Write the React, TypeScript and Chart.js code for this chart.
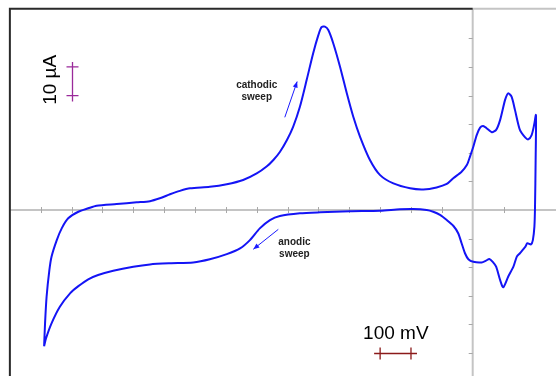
import React, { useEffect, useRef } from "react";
import { Chart, registerables } from "chart.js";

Chart.register(...registerables);

// Cyclic voltammogram: potential (mV) and current (µA), traced as one closed loop
const potential_mV = [
  -1389, -1386, -1381, -1372, -1365, -1348, -1332, -1311, -1278, -1246, -1219, -1154, -1089, -1046, -1014, -981,
  -949, -916, -852, -797, -744, -700, -668, -646, -625, -602, -582, -560, -538, -517, -500, -490, -479, -468, -452, -430,
  -408, -387, -365, -333, -300, -257, -203, -160, -117, -84, -63, -36, -19, -9, 2, 13, 24, 34, 45, 62, 76, 89, 105,
  115, 126, 137, 153, 170, 180, 191, 199, 205,
  204, 202, 200, 195, 189, 177, 171, 153, 143, 132, 115, 99, 89, 76, 65, 54, 43, 29, 2, -14, -25, -36, -47, -63,
  -84, -106, -128, -149, -193, -236, -300, -398, -495, -560, -625, -657, -690, -722, -754, -797, -852, -906, -981,
  -1046, -1100, -1165, -1214, -1246, -1278, -1305, -1338, -1365, -1383, -1389,
];
const current_uA = [
  -47.6, -39.6, -30.3, -21.0, -16.3, -10.5, -6.4, -2.9, -0.6, 0.6, 1.5, 2.1, 2.7, 3.1, 4.1, 5.5,
  6.7, 7.6, 8.1, 9.0, 10.5, 12.8, 15.2, 17.5, 20.3, 24.5, 29.1, 36.1, 45.5, 54.8, 61.2, 63.9, 64.1, 62.9, 58.3, 50.1,
  40.8, 32.6, 25.6, 17.5, 12.2, 9.3, 7.6, 7.2, 7.9, 9.1, 11.1, 13.4, 15.7, 18.6, 22.1, 26.2, 28.8, 29.4, 28.6, 27.2, 28.0, 31.5, 38.5,
  40.8, 39.6, 35.0, 28.0, 25.4, 24.7, 26.2, 29.7, 33.2,
  17.5, 1.2, -5.8, -10.5, -12.0, -11.6, -12.8, -15.1, -16.3, -19.8, -23.3, -27.0, -24.5, -19.8, -18.1, -17.1, -17.7, -18.3,
  -18.1, -17.2, -15.1, -11.6, -8.1, -5.5, -3.5, -1.7, -0.6, 0, 0.35, 0.24, -0.24, -0.45, -0.8, -1.15, -2.1, -3.5, -6.4, -10.5, -13.4,
  -15.4, -17.2, -18.3, -18.6, -19.0, -19.8, -21.2, -22.7, -24.2, -26.6, -29.1, -33.8, -39.6, -44.9, -47.6,
];

// axis tick positions
const xTicks_mV = [-1400, -1300, -1200, -1100, -1000, -900, -800, -700, -600, -500, -400, -300, -200, -100, 100, 200];
const yTicks_uA = [-50, -40, -30, -20, -10, 10, 20, 30, 40, 50, 60];

// view window and frame
const xRange = [-1532, 270];
const yRange = [-58, 73.4];
const frameLeft_mV = -1500;
const frameTop_uA = 70.3;

// annotations
const sweepLabels = [
  { lines: ["cathodic", "sweep"], x: -700, y: [43.7, 39.3] },
  { lines: ["anodic", "sweep"], x: -578, y: [-11.2, -15.5] },
];
const sweepArrows = [
  { from: [-609, 32.4], to: [-569, 44.9] },
  { from: [-630, -6.75], to: [-711, -13.7] },
];
const currentBar = { label: "10 µA", x: -1300, from: 40, to: 50, labelX: -1367, labelY: 45.5 };
const potentialBar = { label: "100 mV", y: -50, from: -300, to: -200, labelX: -249, labelY: -43.1 };

const decorPlugin = {
  id: "decor",
  beforeDatasetsDraw(chart: any) {
    const { ctx, scales } = chart;
    const xs = scales.x;
    const ys = scales.y;
    const px = (v: number) => xs.getPixelForValue(v);
    const py = (v: number) => ys.getPixelForValue(v);
    const x0 = px(0);
    const y0 = py(0);
    const W = chart.width;
    const H = chart.height;
    ctx.save();
    // axes
    ctx.strokeStyle = "#c4c4c4";
    ctx.lineWidth = 2;
    ctx.beginPath();
    ctx.moveTo(px(frameLeft_mV), y0);
    ctx.lineTo(W, y0);
    ctx.moveTo(x0, py(frameTop_uA));
    ctx.lineTo(x0, H);
    ctx.stroke();
    // ticks
    ctx.strokeStyle = "#a8a8a8";
    ctx.lineWidth = 1;
    ctx.beginPath();
    xTicks_mV.forEach((t) => {
      const x = Math.round(px(t)) + 0.5;
      ctx.moveTo(x, y0 - 3);
      ctx.lineTo(x, y0 + 3);
    });
    yTicks_uA.forEach((t) => {
      const y = Math.round(py(t)) + 0.5;
      ctx.moveTo(x0 - 4, y);
      ctx.lineTo(x0, y);
    });
    ctx.stroke();
    // frame
    ctx.strokeStyle = "#c4c4c4";
    ctx.lineWidth = 2;
    ctx.beginPath();
    ctx.moveTo(x0, py(frameTop_uA));
    ctx.lineTo(W, py(frameTop_uA));
    ctx.stroke();
    ctx.strokeStyle = "#2a2a2a";
    ctx.lineWidth = 2;
    ctx.beginPath();
    ctx.moveTo(px(frameLeft_mV), H);
    ctx.lineTo(px(frameLeft_mV), py(frameTop_uA));
    ctx.lineTo(x0, py(frameTop_uA));
    ctx.stroke();
    ctx.restore();
  },
  afterDatasetsDraw(chart: any) {
    const { ctx, scales } = chart;
    const px = (v: number) => scales.x.getPixelForValue(v);
    const py = (v: number) => scales.y.getPixelForValue(v);
    ctx.save();
    // sweep labels
    ctx.fillStyle = "#222";
    ctx.font = "bold 10px 'Liberation Sans', Arial, sans-serif";
    ctx.textAlign = "center";
    ctx.textBaseline = "middle";
    sweepLabels.forEach((l) => {
      l.lines.forEach((s, i) => ctx.fillText(s, px(l.x), py(l.y[i])));
    });
    // arrows
    ctx.strokeStyle = "#1a1aff";
    ctx.fillStyle = "#1a1aff";
    ctx.lineWidth = 1;
    sweepArrows.forEach((a) => {
      const x1 = px(a.from[0]), y1 = py(a.from[1]);
      const x2 = px(a.to[0]), y2 = py(a.to[1]);
      const ang = Math.atan2(y2 - y1, x2 - x1);
      ctx.beginPath();
      ctx.moveTo(x1, y1);
      ctx.lineTo(x2, y2);
      ctx.stroke();
      const hl = 6, hw = 2.5;
      ctx.beginPath();
      ctx.moveTo(x2, y2);
      ctx.lineTo(x2 - hl * Math.cos(ang) + hw * Math.sin(ang), y2 - hl * Math.sin(ang) - hw * Math.cos(ang));
      ctx.lineTo(x2 - hl * Math.cos(ang) - hw * Math.sin(ang), y2 - hl * Math.sin(ang) + hw * Math.cos(ang));
      ctx.closePath();
      ctx.fill();
    });
    // current scale bar
    {
      const x = Math.round(px(currentBar.x)) + 0.5;
      const ya = py(currentBar.to), yb = py(currentBar.from);
      ctx.strokeStyle = "#9a2a9a";
      ctx.lineWidth = 1.3;
      ctx.beginPath();
      ctx.moveTo(x, ya - 5);
      ctx.lineTo(x, yb + 6);
      ctx.moveTo(x - 6, ya);
      ctx.lineTo(x + 6, ya);
      ctx.moveTo(x - 6, yb);
      ctx.lineTo(x + 6, yb);
      ctx.stroke();
      ctx.save();
      ctx.translate(px(currentBar.labelX), py(currentBar.labelY));
      ctx.rotate(-Math.PI / 2);
      ctx.fillStyle = "#000";
      ctx.font = "19px 'Liberation Sans', Arial, sans-serif";
      ctx.textAlign = "center";
      ctx.textBaseline = "middle";
      ctx.fillText(currentBar.label, 0, 0);
      ctx.restore();
    }
    // potential scale bar
    {
      const y = Math.round(py(potentialBar.y)) + 0.5;
      const xa = px(potentialBar.from), xb = px(potentialBar.to);
      ctx.strokeStyle = "#8b1a1a";
      ctx.lineWidth = 1.3;
      ctx.beginPath();
      ctx.moveTo(xa - 6, y);
      ctx.lineTo(xb + 6, y);
      ctx.moveTo(xa, y - 6);
      ctx.lineTo(xa, y + 6);
      ctx.moveTo(xb, y - 6);
      ctx.lineTo(xb, y + 6);
      ctx.stroke();
      ctx.fillStyle = "#000";
      ctx.font = "19px 'Liberation Sans', Arial, sans-serif";
      ctx.textAlign = "center";
      ctx.textBaseline = "middle";
      ctx.fillText(potentialBar.label, px(potentialBar.labelX), py(potentialBar.labelY));
    }
    ctx.restore();
  },
};

export default function App() {
  const ref = useRef<HTMLCanvasElement | null>(null);
  useEffect(() => {
    if (!ref.current) return;
    const points = potential_mV.map((x, i) => ({ x, y: current_uA[i] }));
    const chart = new Chart(ref.current, {
      type: "scatter",
      data: {
        datasets: [
          {
            data: points,
            showLine: true,
            borderColor: "#1414f5",
            borderWidth: 2,
            pointRadius: 0,
            tension: 0.25,
            fill: false,
          },
        ],
      },
      options: {
        responsive: false,
        animation: false,
        layout: { padding: 0 },
        plugins: { legend: { display: false }, tooltip: { enabled: false } },
        scales: {
          x: { type: "linear", display: false, min: xRange[0], max: xRange[1] },
          y: { type: "linear", display: false, min: yRange[0], max: yRange[1] },
        },
      },
      plugins: [decorPlugin],
    });
    return () => chart.destroy();
  }, []);
  return (
    <div style={{ position: "absolute", left: 0, top: 0, width: 556, height: 376, background: "#fff" }}>
      <canvas ref={ref} width={556} height={376} style={{ display: "block" }} />
    </div>
  );
}
